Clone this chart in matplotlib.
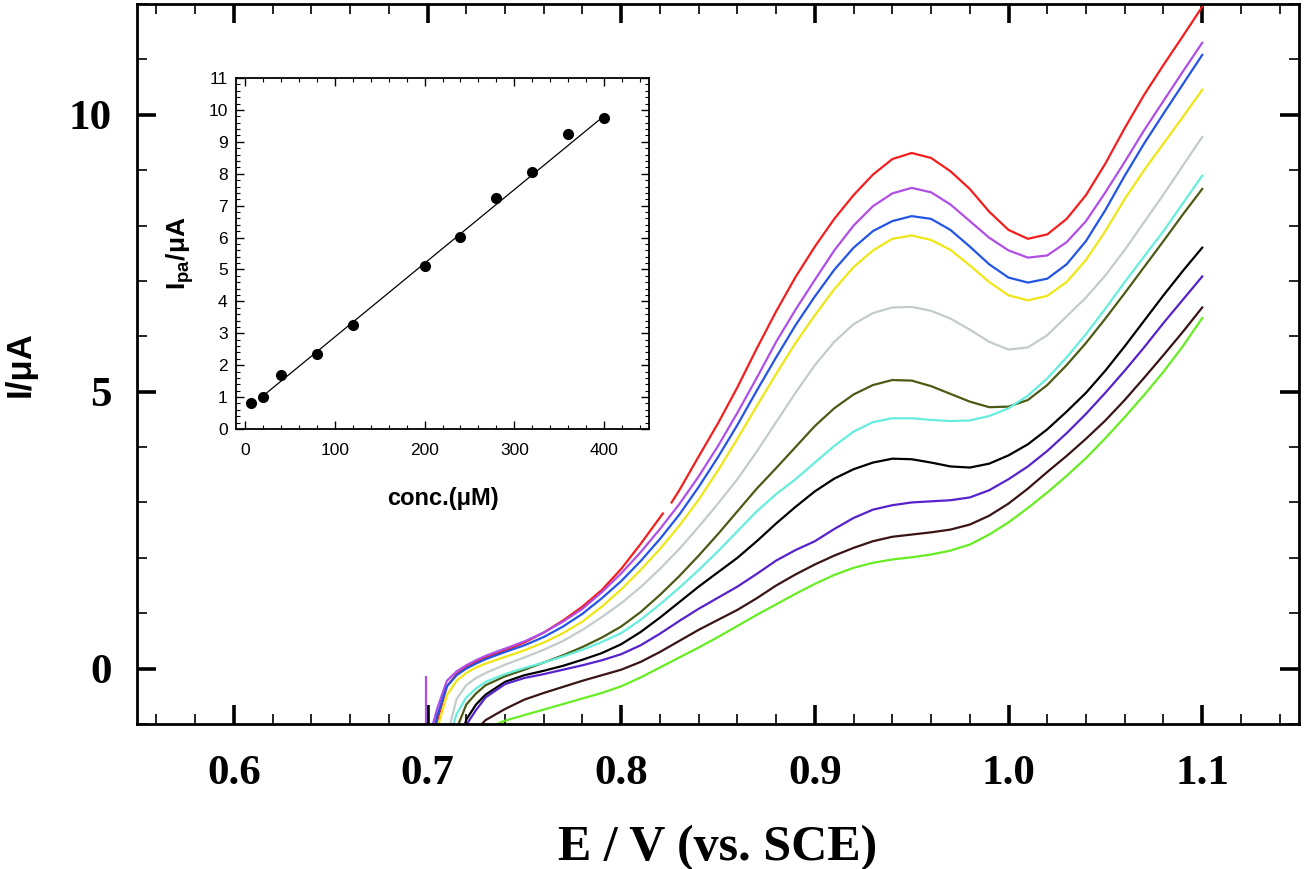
import numpy as np
import matplotlib
matplotlib.use('Agg')
import matplotlib.pyplot as plt
from matplotlib.ticker import MultipleLocator, FormatStrFormatter

plt.rcParams['mathtext.fontset'] = 'custom'
plt.rcParams['mathtext.rm'] = 'Liberation Sans:bold'
plt.rcParams['mathtext.bf'] = 'Liberation Sans:bold'
plt.rcParams['mathtext.it'] = 'Liberation Sans:bold'

nan = np.nan

#============================================================================
# data (E in V vs SCE, I in uA)
#============================================================================

E_grid = [0.705, 0.71, 0.715, 0.72, 0.725, 0.73,
          0.74, 0.75, 0.76, 0.77, 0.78, 0.79, 0.80, 0.81, 0.82, 0.83,
          0.84, 0.85, 0.86, 0.87, 0.88, 0.89, 0.90, 0.91, 0.92, 0.93,
          0.94, 0.95, 0.96, 0.97, 0.98, 0.99, 1.00, 1.01, 1.02, 1.03,
          1.04, 1.05, 1.06, 1.07, 1.08, 1.09, 1.10]

# red trace has a small break near 0.824 V, so it keeps its own potentials
red_E = [0.7045, 0.71, 0.715, 0.72, 0.725, 0.73,
         0.74, 0.75, 0.76, 0.77, 0.78, 0.79, 0.80, 0.81, 0.8215, nan, 0.826, 0.83,
         0.84, 0.85, 0.86, 0.87, 0.88, 0.89, 0.90, 0.91, 0.92, 0.93,
         0.94, 0.95, 0.96, 0.97, 0.98, 0.99, 1.00, 1.01, 1.02, 1.03,
         1.04, 1.05, 1.06, 1.07, 1.08, 1.09, 1.10]
red_I = [-1.0, -0.32, -0.10, 0.03, 0.12, 0.20,
         0.33, 0.47, 0.65, 0.87, 1.12, 1.42, 1.80, 2.25, 2.80, nan, 3.00, 3.22,
         3.83, 4.43, 5.08, 5.78, 6.45, 7.07, 7.62, 8.12, 8.55, 8.92,
         9.20, 9.31, 9.22, 8.98, 8.66, 8.25, 7.92, 7.76, 7.84, 8.12,
         8.55, 9.12, 9.76, 10.36, 10.90, 11.42, 11.95]

violet = [-0.72, -0.22, -0.05, 0.06, 0.15, 0.23,
          0.36, 0.49, 0.65, 0.85, 1.08, 1.38, 1.72, 2.10, 2.52, 2.97,
          3.47, 4.02, 4.62, 5.25, 5.90, 6.48, 7.02, 7.55, 8.00, 8.35,
          8.58, 8.68, 8.60, 8.38, 8.08, 7.78, 7.55, 7.42, 7.46, 7.70,
          8.08, 8.60, 9.15, 9.72, 10.25, 10.78, 11.30]
blue = [-0.85, -0.32, -0.12, 0.00, 0.09, 0.17,
        0.30, 0.42, 0.57, 0.76, 0.99, 1.27, 1.58, 1.94, 2.34, 2.78,
        3.28, 3.82, 4.40, 5.02, 5.62, 6.20, 6.72, 7.20, 7.60, 7.90,
        8.08, 8.17, 8.12, 7.92, 7.62, 7.30, 7.06, 6.97, 7.04, 7.30,
        7.72, 8.28, 8.90, 9.48, 10.02, 10.55, 11.08]
yellow = [nan, -0.48, -0.22, -0.08, 0.02, 0.09,
          0.21, 0.33, 0.47, 0.64, 0.85, 1.12, 1.43, 1.78, 2.16, 2.58,
          3.05, 3.58, 4.15, 4.74, 5.32, 5.88, 6.38, 6.85, 7.25, 7.55,
          7.76, 7.82, 7.74, 7.56, 7.28, 6.98, 6.74, 6.65, 6.73, 6.98,
          7.38, 7.90, 8.48, 9.00, 9.48, 9.96, 10.45]
gray = [nan, nan, -0.55, -0.30, -0.17, -0.08,
        0.07, 0.20, 0.34, 0.50, 0.70, 0.93, 1.18, 1.47, 1.80, 2.16,
        2.56, 2.98, 3.42, 3.92, 4.45, 4.98, 5.48, 5.90, 6.22, 6.42,
        6.52, 6.53, 6.46, 6.32, 6.12, 5.90, 5.76, 5.80, 6.02, 6.36,
        6.70, 7.10, 7.56, 8.06, 8.56, 9.08, 9.60]
olive = [nan, nan, nan, -0.65, -0.45, -0.30,
         -0.14, -0.02, 0.11, 0.24, 0.39, 0.56, 0.76, 1.02, 1.33, 1.67,
         2.04, 2.43, 2.84, 3.25, 3.62, 4.00, 4.38, 4.70, 4.95, 5.12,
         5.21, 5.20, 5.10, 4.96, 4.82, 4.72, 4.73, 4.85, 5.12, 5.48,
         5.88, 6.32, 6.78, 7.25, 7.72, 8.20, 8.66]
cyan = [nan, nan, -0.82, -0.52, -0.36, -0.24,
        -0.10, 0.01, 0.11, 0.22, 0.34, 0.48, 0.64, 0.88, 1.16, 1.46,
        1.78, 2.12, 2.48, 2.84, 3.15, 3.42, 3.72, 4.02, 4.28, 4.45,
        4.52, 4.52, 4.49, 4.47, 4.48, 4.56, 4.70, 4.93, 5.24, 5.62,
        6.04, 6.50, 6.98, 7.44, 7.90, 8.40, 8.90]
black = [nan, nan, nan, -0.92, -0.65, -0.47,
         -0.24, -0.12, -0.04, 0.05, 0.16, 0.28, 0.44, 0.66, 0.92, 1.20,
         1.48, 1.74, 2.00, 2.30, 2.62, 2.92, 3.20, 3.43, 3.60, 3.72,
         3.79, 3.78, 3.72, 3.65, 3.63, 3.70, 3.85, 4.05, 4.32, 4.64,
         4.98, 5.38, 5.82, 6.28, 6.74, 7.18, 7.60]
purple = [nan, nan, nan, nan, -0.75, -0.52,
          -0.28, -0.17, -0.10, -0.02, 0.06, 0.15, 0.26, 0.42, 0.63, 0.86,
          1.08, 1.28, 1.48, 1.71, 1.95, 2.14, 2.30, 2.52, 2.72, 2.87,
          2.95, 3.00, 3.02, 3.04, 3.09, 3.22, 3.42, 3.65, 3.93, 4.25,
          4.60, 4.98, 5.38, 5.80, 6.24, 6.66, 7.08]
brown = [nan, nan, nan, nan, nan, -0.93,
         -0.73, -0.56, -0.44, -0.33, -0.22, -0.12, -0.02, 0.12, 0.30, 0.50,
         0.70, 0.88, 1.06, 1.27, 1.50, 1.70, 1.88, 2.04, 2.18, 2.30,
         2.38, 2.42, 2.46, 2.51, 2.60, 2.76, 2.98, 3.25, 3.55, 3.84,
         4.15, 4.48, 4.85, 5.25, 5.66, 6.08, 6.52]
green = [nan, nan, nan, nan, nan, nan,
         -0.94, -0.84, -0.74, -0.64, -0.54, -0.44, -0.32, -0.16, 0.02, 0.20,
         0.38, 0.57, 0.77, 0.97, 1.16, 1.35, 1.53, 1.69, 1.82, 1.91,
         1.97, 2.01, 2.06, 2.13, 2.24, 2.42, 2.64, 2.90, 3.18, 3.48,
         3.80, 4.16, 4.54, 4.94, 5.36, 5.82, 6.33]

# potential where each trace enters the frame at the lower limit
start_I = -1.0
curves = [violet, blue, yellow, gray, olive, cyan, black, purple, brown, green]
start_E = [0.7028, 0.704, 0.7057, 0.7117, 0.716, 0.7134, 0.7194, 0.7203, 0.728, 0.736]
colors = ['#b04ee6', '#2255e6', '#f0e614', '#c3cccc', '#4b5a14', '#66eedd',
          '#000000', '#5522cc', '#3a1414', '#66ee22']

# short vertical artefact on the violet trace
spike_E = [0.6993, 0.6993]
spike_I = [-1.0, -0.16]

# inset calibration
conc = [7, 20, 40, 80, 120, 200, 240, 280, 320, 360, 400]
ipa = [0.82, 1.00, 1.68, 2.36, 3.27, 5.11, 6.02, 7.25, 8.05, 9.25, 9.76]
fit_slope = 0.0231
fit_intercept = 0.574
fit_range = [17, 400]

#============================================================================
# main plot
#============================================================================

fig = plt.figure(figsize=(13.04, 8.69), dpi=100)
ax = fig.add_axes([0.1051, 0.1669, 0.8911, 0.8285])

ax.plot(red_E, red_I, color='#f41e1e', lw=1.6)
for c, e0, col in zip(curves, start_E, colors):
    x = [e0] + [e for e, v in zip(E_grid, c) if not np.isnan(v)]
    y = [start_I] + [v for v in c if not np.isnan(v)]
    ax.plot(x, y, color=col, lw=1.6)
ax.plot(spike_E, spike_I, color=colors[0], lw=1.6)

ax.set_xlim(0.55, 1.15)
ax.set_ylim(-1.0, 12.0)
ax.xaxis.set_major_locator(MultipleLocator(0.1))
ax.xaxis.set_minor_locator(MultipleLocator(0.02))
ax.xaxis.set_major_formatter(FormatStrFormatter('%.1f'))
ax.yaxis.set_major_locator(MultipleLocator(5))
ax.yaxis.set_minor_locator(MultipleLocator(1))

ax.tick_params(which='major', direction='in', length=14, width=2.6,
               top=True, right=True)
ax.tick_params(axis='x', which='major', pad=22)
ax.tick_params(axis='y', which='major', pad=18)
ax.tick_params(which='minor', direction='in', length=7, width=1.2,
               top=True, right=True)
for s in ax.spines.values():
    s.set_linewidth(2.0)
for lab in ax.get_xticklabels() + ax.get_yticklabels():
    lab.set_family('Liberation Serif')
    lab.set_weight('bold')
    lab.set_size(31)

ax.set_xlabel('E / V (vs. SCE)', family='Liberation Serif', weight='bold', size=36)
ax.xaxis.set_label_coords(0.5, -0.14)
ax.set_ylabel('I/μA', family='Liberation Sans', weight='bold', size=25)
ax.yaxis.set_label_coords(-0.086, 0.5)

#============================================================================
# inset: calibration plot
#============================================================================

ins = fig.add_axes([0.181, 0.5063, 0.3167, 0.4039])
ins.plot(conc, ipa, 'o', color='black', ms=7)
fx = np.array(fit_range)
ins.plot(fx, fit_slope * fx + fit_intercept, color='black', lw=0.9)

ins.set_xlim(-10, 450)
ins.set_ylim(0, 11)
ins.xaxis.set_major_locator(MultipleLocator(100))
ins.xaxis.set_minor_locator(MultipleLocator(20))
ins.yaxis.set_major_locator(MultipleLocator(1))
ins.yaxis.set_minor_locator(MultipleLocator(0.2))
ins.tick_params(which='major', direction='in', length=6, width=1.0,
                top=True, right=True, labelsize=12.5)
ins.tick_params(axis='x', which='major', pad=10)
ins.tick_params(axis='y', which='major', pad=6)
ins.tick_params(which='minor', direction='in', length=3, width=0.8,
                top=True, right=True)
for s in ins.spines.values():
    s.set_linewidth(1.3)
for lab in ins.get_xticklabels() + ins.get_yticklabels():
    lab.set_family('Liberation Sans')

ins.set_xlabel('conc.(μM)', family='Liberation Sans', weight='bold', size=17)
ins.xaxis.set_label_coords(0.5, -0.165)
ins.set_ylabel(r'I$_{\mathbf{pa}}$/μA', family='Liberation Sans', weight='bold', size=19)
ins.yaxis.set_label_coords(-0.097, 0.5)

fig.savefig('out.png', dpi=100)
